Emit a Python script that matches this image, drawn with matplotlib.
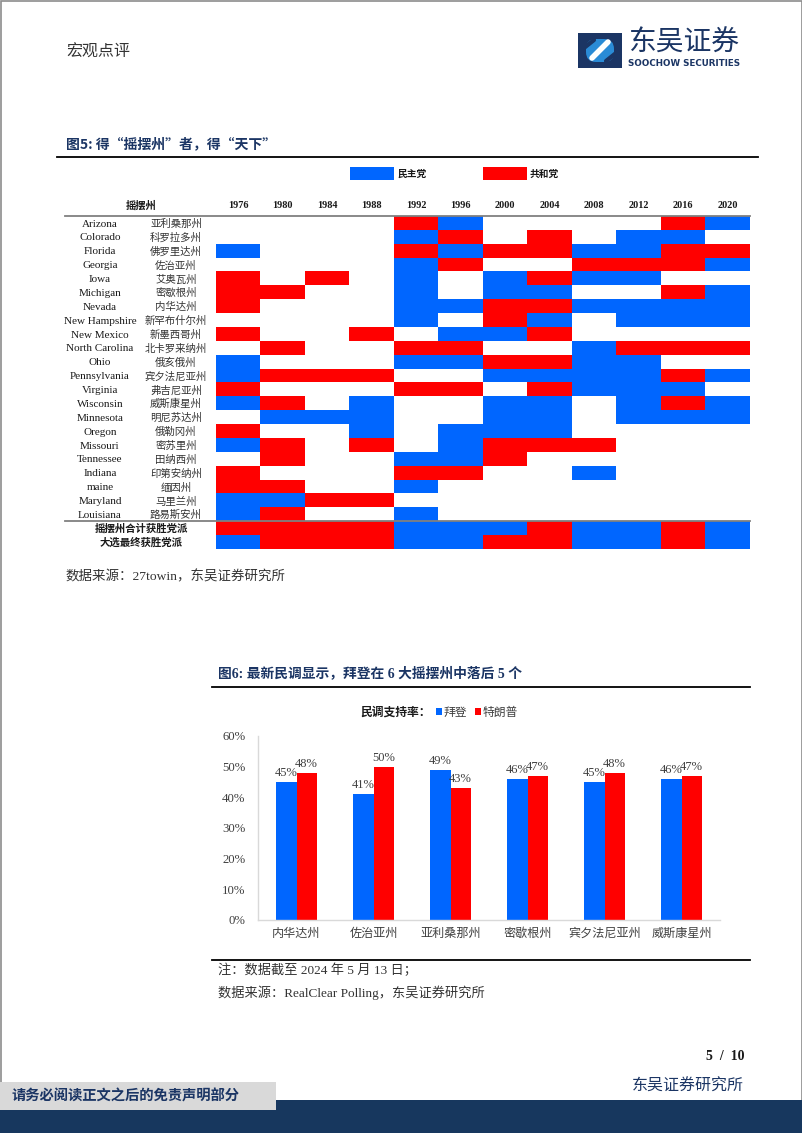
import numpy as np
import matplotlib
matplotlib.use("Agg")
import matplotlib.pyplot as plt
from matplotlib.colors import ListedColormap
from matplotlib.patches import Rectangle, FancyBboxPatch
from matplotlib.ticker import FuncFormatter

# ---------------- data ----------------
years = ["1976", "1980", "1984", "1988", "1992", "1996", "2000", "2004", "2008", "2012", "2016", "2020"]
states_en = ["Arizona", "Colorado", "Florida", "Georgia", "Iowa", "Michigan", "Nevada", "New Hampshire",
             "New Mexico", "North Carolina", "Ohio", "Pennsylvania", "Virginia", "Wisconsin", "Minnesota",
             "Oregon", "Missouri", "Tennessee", "Indiana", "maine", "Maryland", "Louisiana"]
states_cn = ["亚利桑那州", "科罗拉多州", "佛罗里达州", "佐治亚州", "艾奥瓦州", "密歇根州", "内华达州", "新罕布什尔州",
             "新墨西哥州", "北卡罗来纳州", "俄亥俄州", "宾夕法尼亚州", "弗吉尼亚州", "威斯康星州", "明尼苏达州",
             "俄勒冈州", "密苏里州", "田纳西州", "印第安纳州", "缅因州", "马里兰州", "路易斯安州"]
# D = 民主党, R = 共和党, - = none ; one char per year
state_results = ["----RD----RD", "----DR-R-DD-", "D---RDRRDDRR", "----DR--RRRD", "R-R-D-DRDD--",
                 "RR--D-DD--RD", "R---DDRRDDDD", "----D-RD-DDD", "R--R-DDR----", "-R--RR--DRRR",
                 "D---DDRRDD--", "DRRR--DDDDRD", "R---RR-RDDD-", "DR-D--DD-DRD", "-DDD--DD-DDD",
                 "R--D-DDD----", "DR-R-DRRR---", "-R--DDR-----", "R---RR--D---", "RR--D-------",
                 "DDRR--------", "DR--D-------"]
summary_labels = ["摇摆州合计获胜党派", "大选最终获胜党派"]
summary_results = ["RRRRDDDRDDRD", "DRRRDDRRDDRD"]

poll_states = ["内华达州", "佐治亚州", "亚利桑那州", "密歇根州", "宾夕法尼亚州", "威斯康星州"]
biden = [45, 41, 49, 46, 45, 46]
trump = [48, 50, 43, 47, 48, 47]

# ---------------- style ----------------
BLUE = "#0066FF"
RED = "#FF0000"
NAVY = "#1B3564"
CJK = ["Noto Sans CJK SC", "DejaVu Sans"]
MIX = ["Liberation Serif", "Noto Sans CJK SC", "DejaVu Sans"]
plt.rcParams["font.family"] = CJK

W, H = 802, 1133
fig = plt.figure(figsize=(W / 100, H / 100), dpi=100)
fig.patch.set_facecolor("white")

page = fig.add_axes([0, 0, 1, 1])
page.set_xlim(0, W)
page.set_ylim(H, 0)
page.axis("off")


def ptext(x, y, s, size=9, family=CJK, ha="left", va="center", color="#262626", weight="normal"):
    page.text(x, y, s, fontsize=size, family=family, ha=ha, va=va, color=color, fontweight=weight)


# page frame
page.add_patch(Rectangle((0.5, 0.5), W - 1, H - 1, fill=False, edgecolor="#8c8c8c", lw=1.2))

# header
ptext(66, 52, "宏观点评", size=11.5, color="#333333")
# logo
page.add_patch(Rectangle((578, 33), 44, 35, color=NAVY, lw=0))
page.add_patch(FancyBboxPatch((586, 39), 28, 23, boxstyle="round,pad=0,rounding_size=10",
                              color="#2A8BD6", lw=0))
page.plot([592, 608], [58, 42], color="white", lw=4, solid_capstyle="round")
page.plot([584, 594], [48, 40], color=NAVY, lw=3, solid_capstyle="round")
page.plot([606, 616], [61, 53], color=NAVY, lw=3, solid_capstyle="round")
ptext(628, 43, "东吴证券", size=20, color=NAVY)
ptext(628, 64, "SOOCHOW SECURITIES", size=6.3, family=["DejaVu Sans"], color=NAVY, weight="bold")

# figure 5 title
ptext(66, 144, "图5: 得“摇摆州”者，得“天下”", size=10, family=CJK, color=NAVY, weight="bold")
page.plot([57, 758], [157, 157], color="black", lw=1.3)

# legend for heatmap
page.add_patch(Rectangle((350, 167), 44, 13, color=BLUE, lw=0))
ptext(397, 173.5, "民主党", size=7, color="#1a1a1a", weight="bold")
page.add_patch(Rectangle((483, 167), 44, 13, color=RED, lw=0))
ptext(530, 173.5, "共和党", size=7, color="#1a1a1a", weight="bold")

# ---------------- heatmap ----------------
hx0, hx1, hy0, hy1 = 216, 750, 216, 549
ax_h = fig.add_axes([hx0 / W, 1 - hy1 / H, (hx1 - hx0) / W, (hy1 - hy0) / H])
code = {"-": 0, "D": 1, "R": 2}
rows = state_results + summary_results
M = np.array([[code[c] for c in r] for r in rows])
nrows, ncols = M.shape
ax_h.imshow(M, cmap=ListedColormap(["white", BLUE, RED]), vmin=0, vmax=2,
            extent=(0, ncols, nrows, 0), aspect="auto", interpolation="nearest")
ax_h.set_xlim(0, ncols)
ax_h.set_ylim(nrows, 0)
ax_h.axis("off")

colw = (hx1 - hx0) / ncols


def px2x(px):
    return (px - hx0) / colw


for j, y in enumerate(years):
    ax_h.text(j + 0.5, -0.55, y, ha="center", va="baseline", fontsize=7.4, family=MIX,
              fontweight="bold", color="#1a1a1a", clip_on=False)
ax_h.text(px2x(141), -0.5, "摇摆州", ha="center", va="baseline", fontsize=7.4, family=CJK,
          fontweight="bold", color="#1a1a1a", clip_on=False)
for i, (en, cn) in enumerate(zip(states_en, states_cn)):
    ax_h.text(px2x(100), i + 0.76, en, ha="center", va="baseline", fontsize=8.0,
              family=["Liberation Serif"], color="#1a1a1a", clip_on=False)
    ax_h.text(px2x(176), i + 0.79, cn, ha="center", va="baseline", fontsize=7.5, family=CJK,
              color="#333333", clip_on=False)
for k, lab in enumerate(summary_labels):
    ax_h.text(px2x(141), len(states_en) + k + 0.79, lab, ha="center", va="baseline", fontsize=7.5,
              family=CJK, fontweight="bold", color="#1a1a1a", clip_on=False)
ax_h.plot([px2x(65), ncols], [0, 0], color="#808080", lw=1.3, clip_on=False, zorder=5)
ax_h.plot([px2x(65), ncols], [len(states_en), len(states_en)], color="#808080", lw=1.3,
          clip_on=False, zorder=5)

ptext(66, 577, "数据来源：27towin，东吴证券研究所", size=9.7, family=MIX, color="#333333")

# ---------------- figure 6 ----------------
ptext(218, 673, "图6: 最新民调显示，拜登在 6 大摇摆州中落后 5 个", size=9.9, family=MIX, color=NAVY, weight="bold")
page.plot([212, 750], [687, 687], color="black", lw=1.3)

# legend
ptext(360, 712, "民调支持率：", size=8.5, color="#1a1a1a", weight="bold")
page.add_patch(Rectangle((436, 708), 6, 7, color=BLUE, lw=0))
ptext(444, 712, "拜登", size=8.5, color="#404040")
page.add_patch(Rectangle((475, 708), 6, 7, color=RED, lw=0))
ptext(483, 712, "特朗普", size=8.5, color="#404040")

bx0, bx1, by0, by1 = 258, 720, 736, 920
ax_b = fig.add_axes([bx0 / W, 1 - by1 / H, (bx1 - bx0) / W, (by1 - by0) / H])
x = np.arange(len(poll_states))
bw = 0.26
b1 = ax_b.bar(x - bw / 2, np.array(biden) / 100, bw, color=BLUE)
b2 = ax_b.bar(x + bw / 2, np.array(trump) / 100, bw, color=RED)
for bars, vals in ((b1, biden), (b2, trump)):
    ax_b.bar_label(bars, labels=[f"{v}%" for v in vals], padding=2, fontsize=9,
                   family=MIX, color="#404040")
ax_b.set_xlim(-0.5, len(poll_states) - 0.5)
ax_b.set_ylim(0, 0.6)
ax_b.set_yticks(np.arange(0, 0.61, 0.1))
ax_b.yaxis.set_major_formatter(FuncFormatter(lambda v, p: f"{v * 100:.0f}%"))
ax_b.set_xticks(x)
ax_b.set_xticklabels(poll_states, family=CJK, fontsize=8.7, color="#404040")
for lab in ax_b.get_yticklabels():
    lab.set_family(MIX)
    lab.set_fontsize(9.2)
    lab.set_color("#404040")
ax_b.tick_params(axis="both", length=0)
ax_b.tick_params(axis="y", pad=9)
ax_b.tick_params(axis="x", pad=5)
for s in ("top", "right"):
    ax_b.spines[s].set_visible(False)
for s in ("left", "bottom"):
    ax_b.spines[s].set_color("#d9d9d9")
    ax_b.spines[s].set_linewidth(1)
ax_b.set_facecolor("none")

page.plot([212, 750], [960, 960], color="black", lw=1.3)
ptext(218, 970, "注：数据截至 2024 年 5 月 13 日；", size=9.5, family=MIX, color="#333333")
ptext(218, 993, "数据来源：RealClear Polling，东吴证券研究所", size=9.5, family=MIX, color="#333333")

# footer
ptext(745, 1057, "5  /  10", size=10, family=["Liberation Serif"], ha="right", color="#1a1a1a", weight="bold")
ptext(744, 1086, "东吴证券研究所", size=11.5, ha="right", color=NAVY)
page.add_patch(Rectangle((0, 1100), W, 33, color="#17375E", lw=0))
page.add_patch(Rectangle((0, 1082), 276, 28, color="#D9D9D9", lw=0))
ptext(12, 1096, "请务必阅读正文之后的免责声明部分", size=10.3, color=NAVY, weight="bold")

fig.savefig("out.png", dpi=100, facecolor="white")
